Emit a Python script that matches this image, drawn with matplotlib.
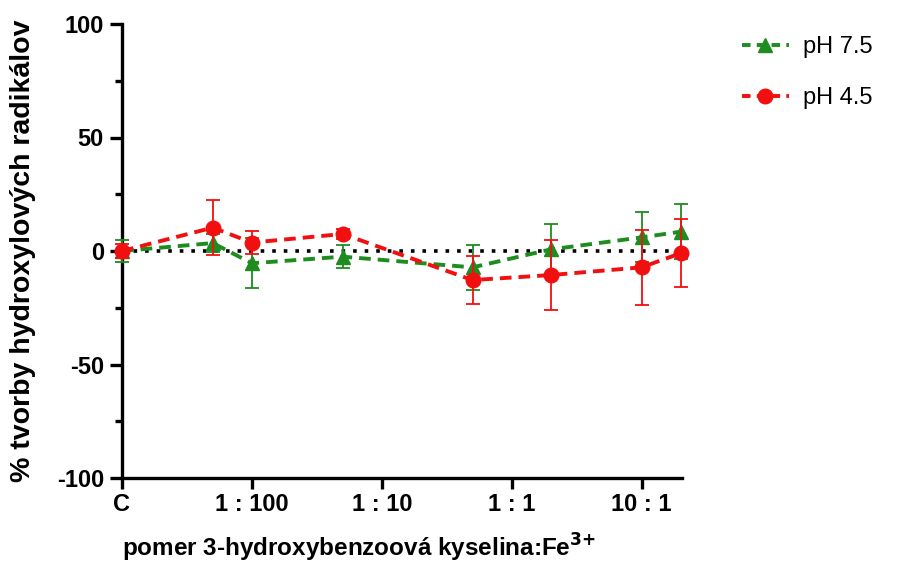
import numpy as np
import matplotlib
matplotlib.use("Agg")
import matplotlib.pyplot as plt
from matplotlib.lines import Line2D
from matplotlib.ticker import FixedLocator, NullLocator

plt.rcParams['font.family'] = ['Liberation Sans', 'DejaVu Sans']
plt.rcParams['axes.unicode_minus'] = False

# ratio 3-hydroxybenzoic acid : Fe3+ (control C drawn at 1:1000)
ratio = [0.001, 0.005, 0.01, 0.05, 0.5, 2, 10, 20]
ph75 = [0, 3.5, -5.4, -2.5, -7.2, 0.7, 6, 8.5]
ph75_err = [5, 4, 11, 5, 10, 11, 11, 12]
ph45 = [0, 10.3, 3.7, 7.5, -12.8, -10.6, -7.2, -1]
ph45_err = [3, 12, 5, 2, 10.5, 15.5, 16.5, 15]

tick_pos = [0.001, 0.01, 0.1, 1, 10]
tick_labels = ['C', '1 : 100', '1 : 10', '1 : 1', '10 : 1']

green = '#1f8c1f'
red = '#f20f0f'
dash = (0, (3, 1.8))

fig = plt.figure(figsize=(9.06, 5.81), dpi=100)
ax = fig.add_axes([122 / 906, 1 - 478 / 581, (682 - 122) / 906, (478 - 24) / 581])

ax.axhline(0, color='black', linestyle=(0, (1, 2.2)), linewidth=2.6, zorder=1)

ax.errorbar(ratio, ph75, yerr=ph75_err, color=green, ecolor=green,
            linestyle=dash, linewidth=2.8, marker='^', markersize=10,
            elinewidth=1.3, capsize=5, capthick=1.3, clip_on=False, zorder=3)
ax.errorbar(ratio, ph45, yerr=ph45_err, color=red, ecolor=red,
            linestyle=dash, linewidth=2.8, marker='o', markersize=10.5,
            elinewidth=1.3, capsize=5, capthick=1.3, clip_on=False, zorder=4)

ax.set_xscale('log')
ax.set_xlim(0.001, 20.5)
ax.set_ylim(-100, 100)
ax.xaxis.set_major_locator(FixedLocator(tick_pos))
ax.xaxis.set_minor_locator(NullLocator())
ax.set_xticklabels(tick_labels)
ax.set_yticks([-100, -50, 0, 50, 100])
ax.yaxis.set_minor_locator(FixedLocator([-75, -25, 25, 75]))

for s in ['top', 'right']:
    ax.spines[s].set_visible(False)
for s in ['left', 'bottom']:
    ax.spines[s].set_linewidth(2.4)

ax.tick_params(axis='x', which='major', length=8, width=2.4, labelsize=17, pad=3)
ax.tick_params(axis='y', which='major', length=9, width=2.4, labelsize=17, pad=4)
ax.tick_params(axis='y', which='minor', length=5, width=2.4)
for lab in ax.get_xticklabels() + ax.get_yticklabels():
    lab.set_fontweight('bold')

ax.set_xlabel('pomer 3-hydroxybenzoová kyselina:Fe$^{\\mathbf{3{+}}}$',
              fontsize=17.5, fontweight='bold')
ax.xaxis.set_label_coords(0.423, -0.118)
ax.set_ylabel('% tvorby hydroxylových radikálov', fontsize=20.5, fontweight='bold')
ax.yaxis.set_label_coords(-0.153, 0.5)

handles = [
    Line2D([], [], color=green, linestyle=(0, (2.2, 1.6)), linewidth=2.8,
           marker='^', markersize=10),
    Line2D([], [], color=red, linestyle=(0, (2.2, 1.6)), linewidth=2.8,
           marker='o', markersize=10.5),
]
fig.legend(handles, ['pH 7.5', 'pH 4.5'], loc='upper left',
           bbox_to_anchor=(0.795, 0.975), frameon=False, fontsize=17,
           handlelength=2.0, labelspacing=1.25, handletextpad=0.6)

fig.savefig('out.png', dpi=100)
